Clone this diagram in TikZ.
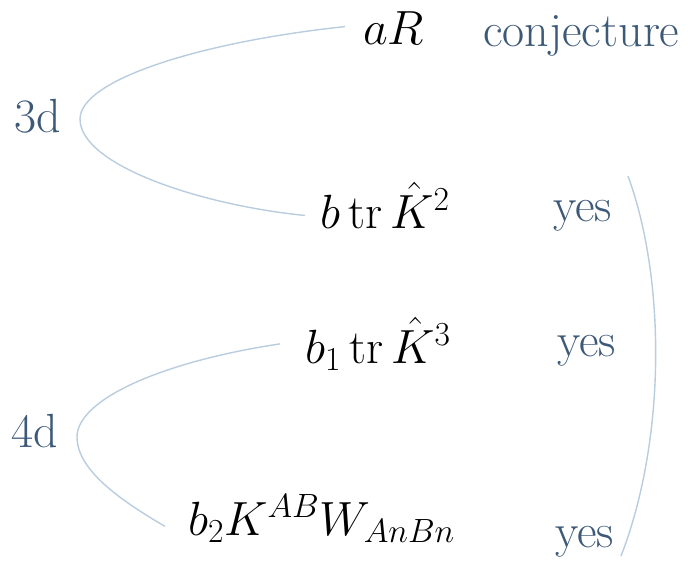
\RequirePackage{fix-cm}
\documentclass[tikz,border=0pt]{standalone}
\usepackage{fontspec}
\definecolor{lab}{HTML}{3D5978}
\definecolor{crv}{HTML}{B9CDDE}
\tikzset{
  lbl/.style={anchor=base west,inner sep=0pt,text=lab,font=\fontsize{48}{54}\selectfont},
  mth/.style={anchor=base west,inner sep=0pt,font=\fontsize{48}{54}\selectfont},
  brace/.style={draw=crv,line width=1.4pt}
}
\begin{document}
\begin{tikzpicture}[x=1pt,y=-1pt]
\useasboundingbox (0,0) rectangle (692,561);
\node[mth] (aR) at (363,45) {$aR$};
\node[lbl] (conj) at (483,47) {conjecture};
\node[lbl] (d3) at (14,133) {3d};
\node[mth] (btr) at (320,228) {$b\,\mathrm{tr}\,\hat{K}^2$};
\node[lbl] (yes1) at (553,222) {yes};
\node[mth] (b1tr) at (305,363) {$b_1\,\mathrm{tr}\,\hat{K}^3$};
\node[lbl] (yes2) at (557,356) {yes};
\node[lbl] (d4) at (11,447) {4d};
\node[mth] (b2K) at (188,535) {$b_2K^{AB}W_{AnBn}$};
\node[lbl] (yes3) at (555,547) {yes};
\coordinate (v1) at (80,119);
\coordinate (v2) at (77,437);
\coordinate (rt) at (628,176);
\coordinate (rb) at (621,556);
\draw[brace] ([xshift=-18pt,yshift=2pt]aR.west) .. controls (200,42) and (80,80) .. (v1)
  .. controls (80,165) and (200,205) .. ([xshift=-15pt,yshift=-10pt]btr.west);
\draw[brace] ([xshift=-25pt]b1tr.west) .. controls (160,362) and (77,400) .. (v2)
  .. controls (77,470) and (120,500) .. ([xshift=-23pt,yshift=-8pt]b2K.west);
\draw[brace] (rt) .. controls (666,280) and (666,440) .. (rb);
\end{tikzpicture}
\end{document}
